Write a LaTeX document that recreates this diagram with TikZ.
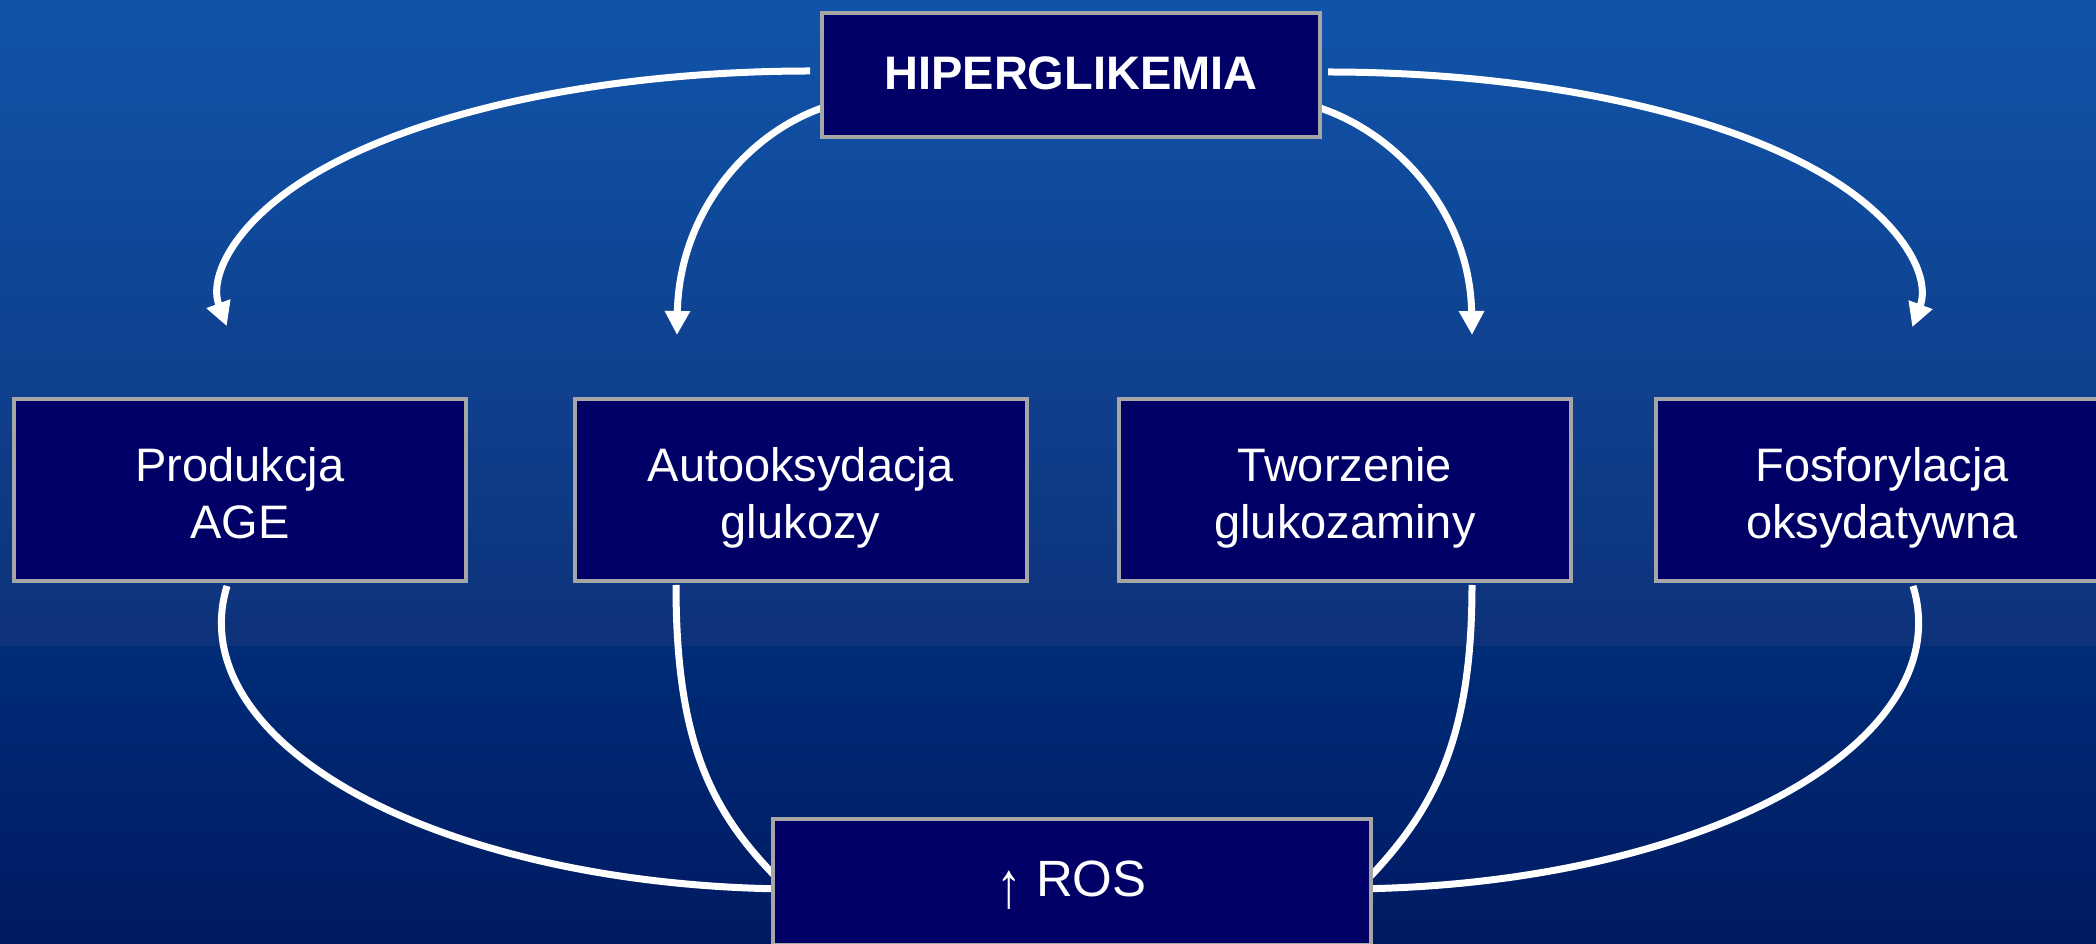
\documentclass[tikz,border=0pt]{standalone}
\usepackage{fontspec}
\setmainfont{Liberation Sans}
\usetikzlibrary{arrows.meta,calc}
\definecolor{boxfill}{RGB}{0,0,102}
\definecolor{boxline}{RGB}{166,166,166}
\definecolor{bgA}{RGB}{16,84,170}
\definecolor{bgB}{RGB}{14,50,122}
\definecolor{bgC}{RGB}{0,44,120}
\definecolor{bgD}{RGB}{0,26,98}
\pgfdeclarelayer{bg}
\pgfdeclarelayer{front}
\pgfsetlayers{bg,main,front}
\tikzset{
  box/.style={draw=boxline, line width=4pt, fill=boxfill, text=white,
    align=center, inner sep=0pt, outer sep=0pt,
    font=\fontsize{47}{57}\selectfont},
  procbox/.style={box, minimum width=452pt, minimum height=182pt,
    text height=98pt, text depth=0pt},
  conn/.style={draw=white, line width=7pt},
  arr/.style={conn, -{Triangle[width=24pt,length=24pt]}}
}
\begin{document}
\begin{tikzpicture}[x=1pt,y=1pt]
\useasboundingbox (0,0) rectangle (2096,943);
\clip (0,0) rectangle (2096,943);
\begin{pgfonlayer}{bg}
  \shade[top color=bgA, bottom color=bgB] (0,296) rectangle (2096,943);
  \shade[top color=bgC, bottom color=bgD] (0,0) rectangle (2096,296);
\end{pgfonlayer}
\begin{pgfonlayer}{front}
  \node[box, minimum width=498pt, minimum height=124pt, text height=30pt, text depth=0pt,
        font=\fontsize{47}{57}\selectfont\bfseries] (H) at (1071,868) {HIPERGLIKEMIA};
  \node[procbox] (P) at (240,453) {Produkcja\\AGE};
  \node[procbox] (A) at (800.5,453) {Autooksydacja\\glukozy};
  \node[procbox] (T) at (1345,453) {Tworzenie\\glukozaminy};
  \node[procbox] (F) at (1882,453) {Fosforylacja\\oksydatywna};
  \node[box, minimum width=598pt, minimum height=126pt, text height=29pt, text depth=0pt,
        font=\fontsize{51}{60}\selectfont] (R) at (1071.5,61)
        {\raisebox{-11pt}{\scalebox{1}[1.27]{↑}} ROS};
\end{pgfonlayer}
% from HIPERGLIKEMIA to the four processes
\draw[arr] ($(H.west)+(-12,4)$) arc[start angle=90, end angle=188, x radius=589pt, y radius=224pt];
\draw[arr] ($(H.east)+(8,3)$) arc[start angle=90, end angle=-8, x radius=590pt, y radius=224pt];
\draw[arr] ($(H.west)+(0,-33)$) .. controls (745,808) and (679,728) .. ($(A.north)+(-123.5,64)$);
\draw[arr] ($(H.east)+(0,-33)$) .. controls (1400,808) and (1470,728) .. ($(T.north)+(127,64)$);
% from the four processes to ROS
\draw[conn] ($(P.south)+(-13,-5)$) arc[start angle=172, end angle=270, x radius=577pt, y radius=266pt];
\draw[conn] ($(F.south)+(31,-5)$) arc[start angle=8, end angle=-90, x radius=577pt, y radius=266pt];
\draw[conn] ($(A.south)+(-124.5,-4)$) .. controls (676,203) and (710,133) .. ($(R.west)+(4.5,4)$);
\draw[conn] ($(T.south)+(127,-4)$) .. controls (1472,203) and (1434,133) .. ($(R.east)+(-4.5,1)$);
\end{tikzpicture}
\end{document}
